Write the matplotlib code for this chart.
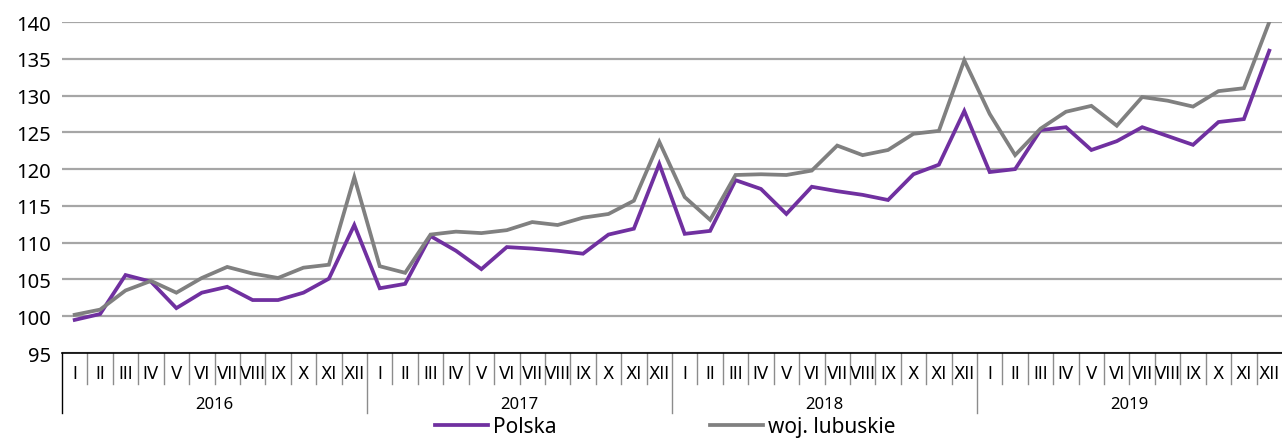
import numpy as np
import matplotlib
matplotlib.use("Agg")
import matplotlib.pyplot as plt
import matplotlib.transforms as mtransforms

plt.rcParams['font.family'] = ['Noto Sans', 'DejaVu Sans']

# dane
lata = ['2016', '2017', '2018', '2019']
miesiace = ['I', 'II', 'III', 'IV', 'V', 'VI', 'VII', 'VIII', 'IX', 'X', 'XI', 'XII']

polska = [99.5, 100.3, 105.6, 104.7, 101.1, 103.2, 104.0, 102.2, 102.2, 103.2, 105.1, 112.4,
          103.8, 104.4, 110.9, 108.9, 106.4, 109.4, 109.2, 108.9, 108.5, 111.1, 111.9, 120.7,
          111.2, 111.6, 118.5, 117.3, 113.9, 117.6, 117.0, 116.5, 115.8, 119.3, 120.6, 127.9,
          119.6, 120.0, 125.3, 125.7, 122.6, 123.8, 125.7, 124.5, 123.3, 126.4, 126.8, 136.1]
lubuskie = [100.2, 100.9, 103.5, 104.8, 103.2, 105.2, 106.7, 105.8, 105.2, 106.6, 107.0, 118.9,
            106.8, 105.9, 111.1, 111.5, 111.3, 111.7, 112.8, 112.4, 113.4, 113.9, 115.7, 123.7,
            116.2, 113.1, 119.2, 119.3, 119.2, 119.8, 123.2, 121.9, 122.6, 124.8, 125.2, 134.8,
            127.5, 121.9, 125.5, 127.8, 128.6, 125.9, 129.8, 129.3, 128.5, 130.6, 131.0, 140.0]

x = np.arange(len(polska))

fig = plt.figure(figsize=(12.82, 4.39), dpi=100)
ax = fig.add_axes([62/1282, 85/439, 1220/1282, 331/439])

ax.plot(x, polska, color='#7030a0', lw=2.7, label='Polska', solid_joinstyle='miter', zorder=3)
ax.plot(x, lubuskie, color='#808080', lw=2.7, label='woj. lubuskie', solid_joinstyle='miter', zorder=3)

ax.set_ylim(95, 140)
ax.set_xlim(-0.5, len(x) - 0.5)
ax.set_yticks(range(95, 141, 5))
ax.tick_params(axis='y', length=0, labelsize=14.5, pad=8)
ax.set_xticks([])
ax.yaxis.grid(True, color='#a6a6a6', lw=1.6)
ax.set_axisbelow(True)
for s in ['top', 'right', 'left']:
    ax.spines[s].set_visible(False)
ax.spines['bottom'].set_color('black')
ax.spines['bottom'].set_linewidth(1.2)

# os x: miesiace i lata
trans = mtransforms.blended_transform_factory(ax.transData, ax.transAxes)
for i in range(len(x)):
    ax.text(i, -0.06, miesiace[i % 12], transform=trans, ha='center', va='center',
            fontsize=12, family='DejaVu Sans Condensed')
    if i > 0 and i % 12 != 0:
        ax.plot([i - 0.5, i - 0.5], [0, -0.095], transform=trans, color='#8c8c8c',
                lw=1, clip_on=False)
for k, rok in enumerate(lata):
    ax.text(k * 12 + 5.5, -0.155, rok, transform=trans, ha='center', va='center', fontsize=12)
    ax.plot([k * 12 - 0.5, k * 12 - 0.5], [0, -0.18], transform=trans,
            color='black' if k == 0 else '#8c8c8c', lw=1, clip_on=False)

ax.legend(loc='center left', bbox_to_anchor=((435 - 62) / 1220, (354 - 428) / 331), ncol=2,
          frameon=False, fontsize=15, handlelength=2.55, columnspacing=7.35,
          handletextpad=0.25, borderpad=0, borderaxespad=0)

plt.savefig('out.png', dpi=100)
